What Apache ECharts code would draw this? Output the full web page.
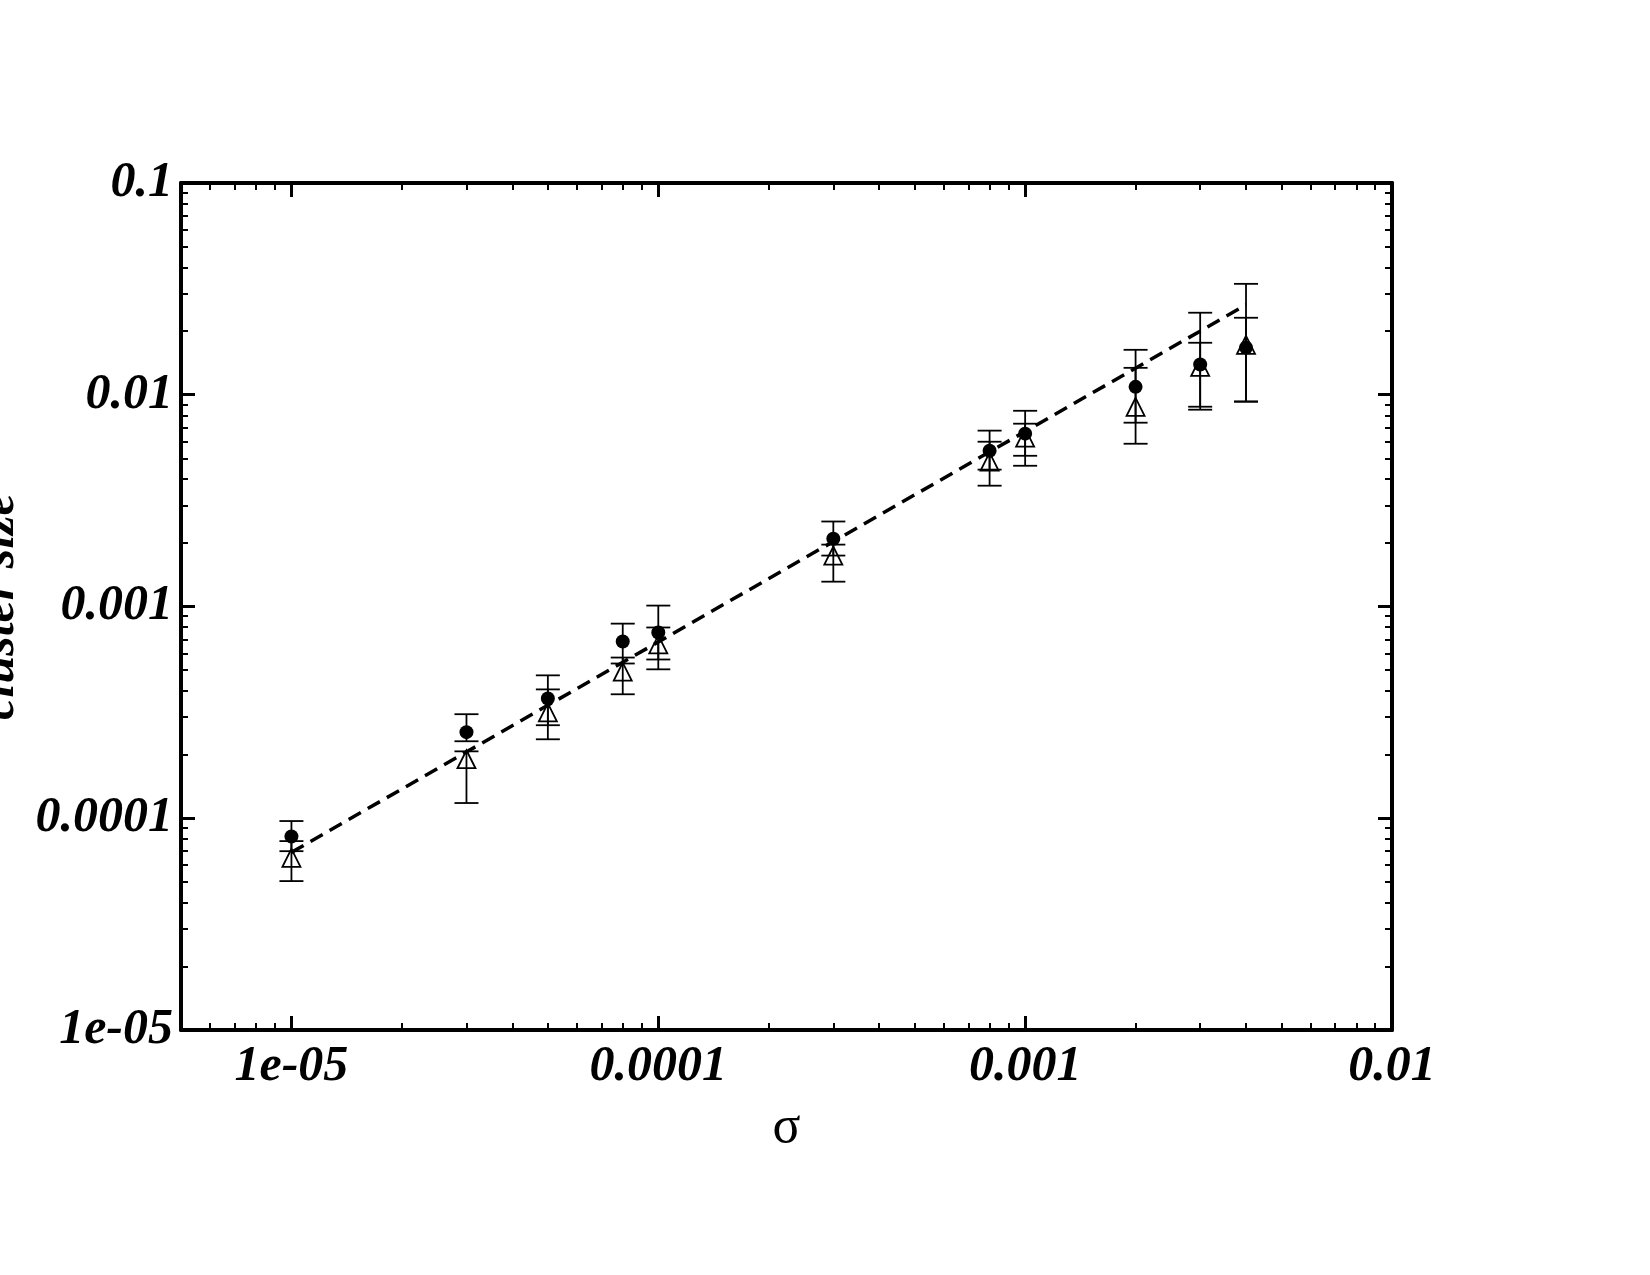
<!DOCTYPE html>
<html><head><meta charset="utf-8">
<script src="https://cdn.jsdelivr.net/npm/echarts@6/dist/echarts.min.js"></script>
<style>html,body{margin:0;background:#fff}#c{width:1650px;height:1275px}</style>
</head><body><div id="c"></div>
<script>
const sigma = [1e-5, 3e-5, 5e-5, 8e-5, 1e-4, 3e-4, 8e-4, 1e-3, 2e-3, 3e-3, 4e-3];
const circleY = [8.2e-5, 2.55e-4, 3.68e-4, 6.84e-4, 7.54e-4, 2.09e-3, 5.44e-3, 6.55e-3, 0.0109, 0.0139, 0.0167];
const circleLo = [6.99e-5, 2.31e-4, 2.75e-4, 5.38e-4, 5.62e-4, 1.74e-3, 4.43e-3, 5.15e-3, 7.38e-3, 8.78e-3, 9.27e-3];
const circleHi = [9.7e-5, 3.1e-4, 4.73e-4, 8.3e-4, 1.01e-3, 2.52e-3, 6.77e-3, 8.4e-3, 0.0163, 0.0244, 0.0334];
const triY = [6.5e-5, 1.9e-4, 3.16e-4, 4.93e-4, 6.62e-4, 1.74e-3, 4.83e-3, 6.27e-3, 8.77e-3, 0.01355, 0.0172];
const triLo = [5.05e-5, 1.18e-4, 2.36e-4, 3.85e-4, 5.05e-4, 1.31e-3, 3.72e-3, 4.62e-3, 5.87e-3, 8.5e-3, 9.3e-3];
const triHi = [7.8e-5, 2.07e-4, 4.06e-4, 5.74e-4, 7.96e-4, 1.96e-3, 6.0e-3, 7.3e-3, 0.0134, 0.0176, 0.0231];
const fitX = [1e-5, 4e-3];
const fitY = [6.9e-5, 0.0266];
const xTickLabels = ['1e-05', '0.0001', '0.001', '0.01'];
const yTickLabels = ['1e-05', '0.0001', '0.001', '0.01', '0.1'];

const font = {fontFamily: 'Liberation Serif', fontWeight: 'bold', fontStyle: 'italic', fontSize: 50, color: '#000'};
function errData(lo, hi) { return sigma.map((x, i) => [x, lo[i], hi[i]]); }
function errRender(params, api) {
  const x = api.value(0);
  const p1 = api.coord([x, api.value(1)]);
  const p2 = api.coord([x, api.value(2)]);
  const w = 12;
  const st = {stroke: '#000', lineWidth: 1.8};
  return {type: 'group', children: [
    {type: 'line', shape: {x1: p1[0], y1: p1[1], x2: p2[0], y2: p2[1]}, style: st},
    {type: 'line', shape: {x1: p1[0] - w, y1: p1[1], x2: p1[0] + w, y2: p1[1]}, style: st},
    {type: 'line', shape: {x1: p2[0] - w, y1: p2[1], x2: p2[0] + w, y2: p2[1]}, style: st}
  ]};
}
const isPow = v => { const l = Math.log10(v); return Math.abs(l - Math.round(l)) < 1e-6; };
const xfmt = v => { const s = ({'-5':'1e-05','-4':'0.0001','-3':'0.001','-2':'0.01'})[Math.round(Math.log10(v))]; return isPow(v) && xTickLabels.includes(s) ? s : ''; };
const yfmt = v => { const s = ({'-5':'1e-05','-4':'0.0001','-3':'0.001','-2':'0.01','-1':'0.1'})[Math.round(Math.log10(v))]; return isPow(v) && yTickLabels.includes(s) ? s : ''; };

const axLine = {show: true, lineStyle: {color: '#000', width: 4}};
const tick = {show: true, inside: true, length: 14, lineStyle: {color: '#000', width: 3}};
const minor = {show: true, splitNumber: 9, length: 7, lineStyle: {color: '#000', width: 2}};
const xBase = {type: 'log', logBase: 10, min: 5e-6, max: 0.01, splitLine: {show: false}, axisLine: axLine, axisTick: tick, minorTick: minor};
const yBase = {type: 'log', logBase: 10, min: 1e-5, max: 0.1, splitLine: {show: false}, axisLine: axLine, axisTick: tick, minorTick: minor};

const chart = echarts.init(document.getElementById('c'));
chart.setOption({
  animation: false,
  backgroundColor: '#fff',
  grid: {left: 181, right: 258, top: 183, bottom: 245, containLabel: false, outerBoundsMode: 'none'},
  xAxis: [
    Object.assign({}, xBase, {position: 'bottom', name: 'σ', nameLocation: 'middle', nameGap: 72,
      nameTextStyle: {fontFamily: 'Liberation Serif', fontSize: 52, color: '#000'},
      axisLabel: Object.assign({margin: 12, formatter: xfmt, showMinLabel: false}, font)}),
    Object.assign({}, xBase, {position: 'top', axisLabel: {show: false}})
  ],
  yAxis: [
    Object.assign({}, yBase, {position: 'left', name: 'cluster size', nameLocation: 'middle', nameGap: 135,
      nameTextStyle: font,
      axisLabel: Object.assign({margin: 8, formatter: yfmt}, font)}),
    Object.assign({}, yBase, {position: 'right', axisLabel: {show: false}})
  ],
  series: [
    {type: 'line', data: fitX.map((x, i) => [x, fitY[i]]), symbol: 'none',
      lineStyle: {color: '#000', width: 3.5, type: [14, 8]}},
    {type: 'custom', renderItem: errRender, data: errData(circleLo, circleHi), z: 3},
    {type: 'custom', renderItem: errRender, data: errData(triLo, triHi), z: 3},
    {type: 'scatter', data: sigma.map((x, i) => [x, circleY[i]]), symbol: 'circle', symbolSize: 14,
      itemStyle: {color: '#000', opacity: 1}, z: 4},
    {type: 'scatter', data: sigma.map((x, i) => [x, triY[i]]), symbol: 'triangle', symbolSize: 18,
      itemStyle: {color: 'rgba(0,0,0,0)', borderColor: '#000', borderWidth: 1.8, opacity: 1}, z: 4}
  ]
});
</script></body></html>
